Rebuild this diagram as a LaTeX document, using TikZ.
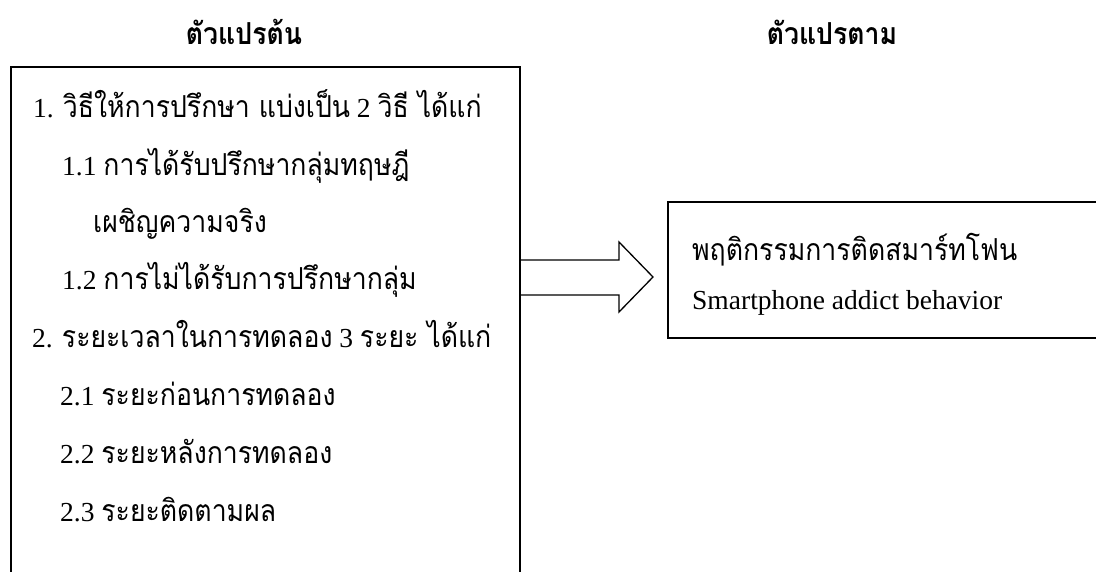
\documentclass[tikz,border=0pt]{standalone}
\usepackage{fontspec}
\setmainfont{Liberation Serif}
\newfontfamily\thaifont[Script=Thai,Scale=1.1,FakeStretch=0.88]{Loma}
\newcommand{\thx}[1]{{\thaifont #1}}
\tikzset{
  txt/.style={anchor=base west, inner sep=0pt, font=\fontsize{27.5}{30}\selectfont},
  ttl/.style={anchor=base, inner sep=0pt, font=\fontsize{27.5}{30}\selectfont\bfseries},
  boxline/.style={draw=black, line width=1.6pt},
  arrowline/.style={draw=black, line width=1.3pt, line join=miter}
}
\begin{document}
\begin{tikzpicture}[x=1pt,y=-1pt]
\clip (0,0) rectangle (1096,571);
\fill[white] (0,0) rectangle (1096,571);
% titles
\node[ttl] (t1) at (244,44) {\thx{ตัวแปรต้น}};
\node[ttl] (t2) at (832,44) {\thx{ตัวแปรตาม}};
% boxes
\node[boxline, rectangle, anchor=north west, minimum width=509pt, minimum height=600pt, inner sep=0pt] (left) at (10,66) {};
\node[boxline, rectangle, anchor=north west, minimum width=500pt, minimum height=136pt, inner sep=0pt] (right) at (667,201) {};
% arrow
\coordinate (a0) at (left.north east |- 0,260);
\coordinate (a1) at (left.north east |- 0,295);
\draw[arrowline] (a0) -- (619,260) -- (619,242) -- (653,277) -- (619,312) -- (619,295) -- (a1);
% left text
\node[txt] (l1) at (33,117) {1. \thx{วิธีให้การปรึกษา แบ่งเป็น} 2 \thx{วิธี ได้แก่}};
\node[txt] (l2) at (62,175) {1.1 \thx{การได้รับปรึกษากลุ่มทฤษฎี}};
\node[txt] (l3) at (93,232) {\thx{เผชิญความจริง}};
\node[txt] (l4) at (62,289) {1.2 \thx{การไม่ได้รับการปรึกษากลุ่ม}};
\node[txt] (l5) at (32,347) {2. \thx{ระยะเวลาในการทดลอง} 3 \thx{ระยะ ได้แก่}};
\node[txt] (l6) at (60,405) {2.1 \thx{ระยะก่อนการทดลอง}};
\node[txt] (l7) at (60,463) {2.2 \thx{ระยะหลังการทดลอง}};
\node[txt] (l8) at (60,521) {2.3 \thx{ระยะติดตามผล}};
% right text
\node[txt] (r1) at (692,260) {\thx{พฤติกรรมการติดสมาร์ทโฟน}};
\node[txt] (r2) at (692,309) {Smartphone addict behavior};
\end{tikzpicture}
\end{document}
